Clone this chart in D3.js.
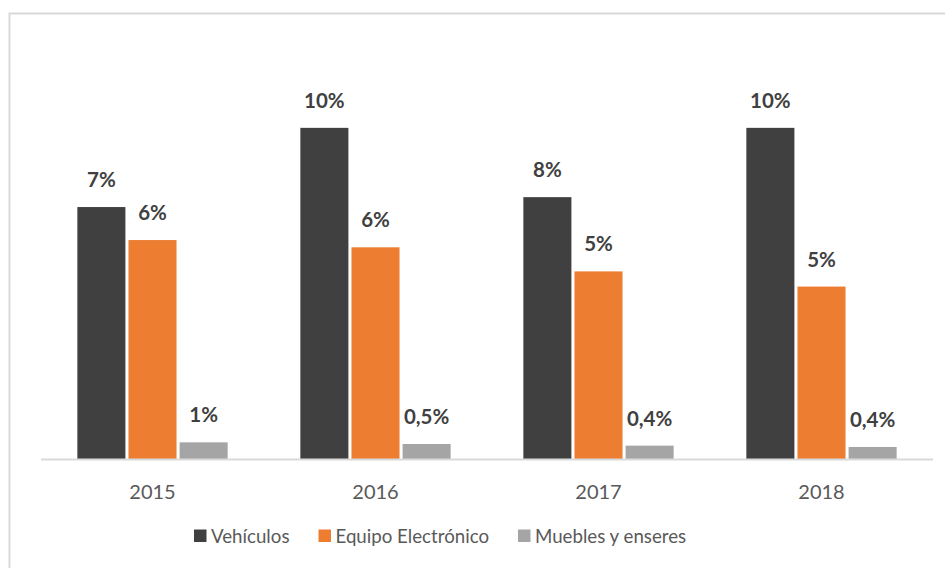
<!DOCTYPE html>
<html>
<head>
<meta charset="utf-8">
<script src="https://cdn.jsdelivr.net/npm/d3@7"></script>
<style>
  html, body { margin: 0; padding: 0; background: #fff; }
  svg { display: block; font-family: Lato, "Open Sans", sans-serif; }
</style>
</head>
<body>
<div id="chart"></div>
<script>
const years = ["2015", "2016", "2017", "2018"];
const seriesNames = ["Vehículos", "Equipo Electrónico", "Muebles y enseres"];
const colors = ["#404040", "#ed7d31", "#a5a5a5"];

// bar heights in %
const vehiculos = [7.65, 10.05, 7.95, 10.05];
const equipo = [6.65, 6.43, 5.70, 5.24];
const muebles = [0.52, 0.47, 0.42, 0.38];

// data labels as printed
const vehiculosLabels = ["7%", "10%", "8%", "10%"];
const equipoLabels = ["6%", "6%", "5%", "5%"];
const mueblesLabels = ["1%", "0,5%", "0,4%", "0,4%"];

const W = 945, H = 568;
const plot = { left: 41, right: 933, base: 459.5, top: 63.5 };

const series = [vehiculos, equipo, muebles];
const labels = [vehiculosLabels, equipoLabels, mueblesLabels];

const svg = d3.select("#chart").append("svg")
  .attr("width", W).attr("height", H);

// chart frame (cropped on right/bottom)
svg.append("rect")
  .attr("x", 9.5).attr("y", 13.5)
  .attr("width", 1200).attr("height", 1200)
  .attr("fill", "none").attr("stroke", "#d9d9d9").attr("stroke-width", 2);

const x0 = d3.scaleBand().domain(years).range([plot.left, plot.right]).paddingInner(0.326).paddingOuter(0.163);
const x1 = d3.scaleBand().domain(d3.range(3)).range([0, x0.bandwidth()]).paddingInner(0.06);
const y = d3.scaleLinear().domain([0, 12]).range([plot.base, plot.top]);

const rows = years.map((yr, i) => ({
  year: yr,
  vals: series.map((s, k) => ({ k, v: s[i], label: labels[k][i] }))
}));

const groups = svg.append("g").selectAll("g")
  .data(rows).join("g")
  .attr("transform", d => `translate(${x0(d.year)},0)`);

groups.selectAll("rect")
  .data(d => d.vals).join("rect")
  .attr("x", d => x1(d.k))
  .attr("width", x1.bandwidth())
  .attr("y", d => y(d.v))
  .attr("height", d => y(0) - y(d.v))
  .attr("fill", d => colors[d.k]);

groups.selectAll("text")
  .data(d => d.vals).join("text")
  .attr("x", d => x1(d.k) + x1.bandwidth() / 2)
  .attr("y", d => y(d.v) - 20)
  .attr("text-anchor", "middle")
  .attr("font-size", 20.5)
  .attr("font-weight", "bold")
  .attr("fill", "#404040")
  .text(d => d.label);

// category axis
const xAxis = svg.append("g")
  .attr("transform", `translate(0,${plot.base})`)
  .call(d3.axisBottom(x0).tickSize(0).tickPadding(0));
xAxis.select(".domain").attr("stroke", "#d9d9d9").attr("stroke-width", 2)
  .attr("d", `M${plot.left},0H${plot.right}`);
xAxis.selectAll("text")
  .attr("font-family", "Lato, 'Open Sans', sans-serif")
  .attr("font-size", 20)
  .attr("fill", "#595959")
  .attr("dy", null)
  .attr("y", 39);

// legend
const legendX = [194, 318.5, 518];
const legend = svg.append("g").selectAll("g")
  .data(seriesNames).join("g")
  .attr("transform", (d, i) => `translate(${legendX[i]},529.5)`);
legend.append("rect")
  .attr("width", 12.5).attr("height", 12.5)
  .attr("fill", (d, i) => colors[i]);
legend.append("text")
  .attr("x", 17).attr("y", 13.5)
  .attr("font-size", 18.7)
  .attr("fill", "#595959")
  .text(d => d);
</script>
</body>
</html>
